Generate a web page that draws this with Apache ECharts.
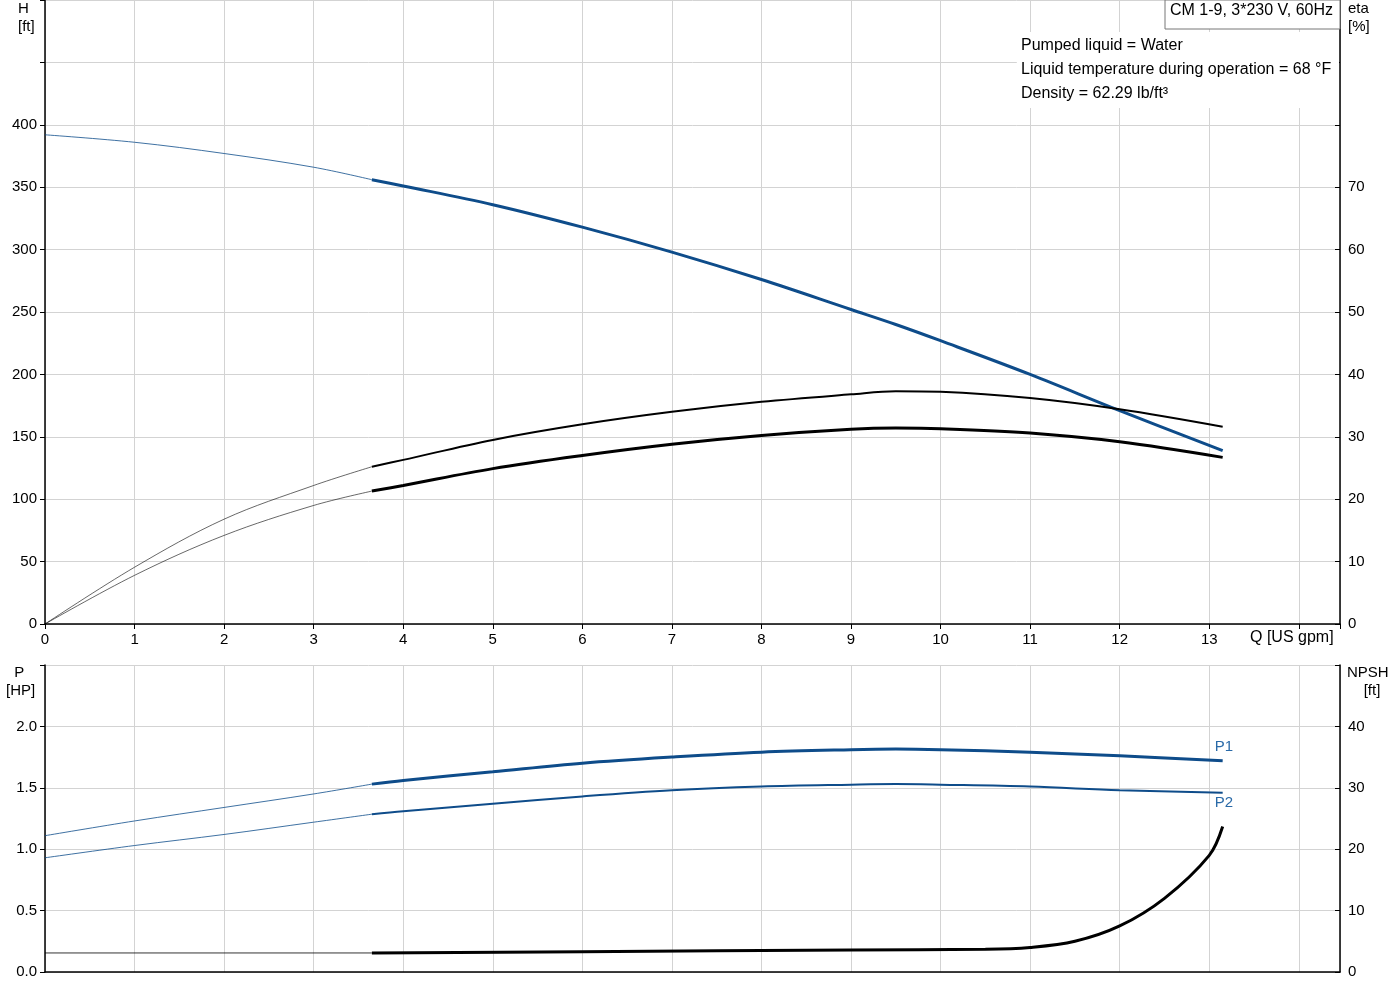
<!DOCTYPE html>
<html><head><meta charset="utf-8">
<script src="https://cdn.jsdelivr.net/npm/echarts@6/dist/echarts.min.js"></script>
<style>body{margin:0;background:#fff}#c{width:1400px;height:1000px}</style></head>
<body><div id="c"></div>
<script>
const qThin = [0, 1, 2, 3, 3.65];
const qThick = [3.65, 4, 5, 6, 7, 8, 9, 9.5, 10, 11, 12, 13.15];
const hThin = [392, 386, 377, 366, 356];
const hThick = [356, 351, 336, 318, 298, 276, 252, 240, 227, 200, 171, 139];
const etaAThin = [0, 9.1, 16.8, 22.2, 25.2];
const etaAThick = [25.2, 26.3, 29.5, 32, 34, 35.6, 36.8, 37.3, 37.2, 36.2, 34.4, 31.6];
const etaBThin = [0, 7.8, 14.2, 19, 21.3];
const etaBThick = [21.3, 22.2, 24.9, 27, 28.8, 30.2, 31.2, 31.4, 31.3, 30.6, 29.2, 26.7];
const p1Thin = [1.11, 1.23, 1.34, 1.45, 1.53];
const p1Thick = [1.53, 1.56, 1.63, 1.70, 1.75, 1.79, 1.81, 1.815, 1.81, 1.79, 1.76, 1.72];
const p2Thin = [0.93, 1.03, 1.12, 1.22, 1.285];
const p2Thick = [1.285, 1.31, 1.37, 1.43, 1.48, 1.51, 1.525, 1.53, 1.525, 1.51, 1.48, 1.46];
const qNpsh = [0, 3.65, 6, 9, 10.5, 11, 11.5, 12, 12.5, 13, 13.15];
const npsh = [3.1, 3.1, 3.3, 3.6, 3.7, 4.0, 5.0, 7.5, 12, 19, 23.7];

const zip = (a, b) => a.map((x, i) => [x, b[i]]);
const blue = '#0e4c8a';
const F = 'Arial, Liberation Sans, sans-serif';
const lbl = {color: '#000', fontSize: 15, fontFamily: F};
const gl = {show: true, lineStyle: {color: '#d3d3d3', width: 1}};
const axLine = {show: true, lineStyle: {color: '#000', width: 1.5}};
function ln(name, xi, yi, data, color, w) {
  return {type: 'line', name, xAxisIndex: xi, yAxisIndex: yi, data, showSymbol: false, smooth: 0.35,
    lineStyle: {color, width: w}, itemStyle: {color}, z: 5, silent: true};
}
const chart = echarts.init(document.getElementById('c'));
chart.setOption({
  animation: false,
  grid: [{left: 45, top: 0, width: 1295, height: 624}, {left: 45, top: 665, width: 1295, height: 307}],
  xAxis: [
    {gridIndex: 0, type: 'value', min: 0, max: 14.46, interval: 1, axisLine: axLine, axisTick: {show: true, length: 5, lineStyle: {color: '#000'}},
     axisLabel: {...lbl, formatter: v => v <= 13 ? v : ''}, splitLine: gl},
    {gridIndex: 1, type: 'value', min: 0, max: 14.46, interval: 1, axisLine: axLine, axisTick: {show: false},
     axisLabel: {show: false}, splitLine: gl}
  ],
  yAxis: [
    {gridIndex: 0, type: 'value', min: 0, max: 500, interval: 50, axisLine: axLine, axisTick: {show: true, length: 5, lineStyle: {color: '#000'}},
     axisLabel: {...lbl, formatter: v => v <= 400 ? v : ''}, splitLine: gl},
    {gridIndex: 0, type: 'value', min: 0, max: 100, interval: 10, position: 'right', axisLine: axLine, axisTick: {show: true, inside: true, length: 5, lineStyle: {color: '#000'}},
     axisLabel: {...lbl, formatter: v => v <= 70 ? v : ''}, splitLine: {show: false}},
    {gridIndex: 1, type: 'value', min: 0, max: 2.5, interval: 0.5, axisLine: axLine, axisTick: {show: true, length: 5, lineStyle: {color: '#000'}},
     axisLabel: {...lbl, formatter: v => v <= 2 ? v.toFixed(1) : ''}, splitLine: gl},
    {gridIndex: 1, type: 'value', min: 0, max: 50, interval: 10, position: 'right', axisLine: axLine, axisTick: {show: true, inside: true, length: 5, lineStyle: {color: '#000'}},
     axisLabel: {...lbl, formatter: v => v <= 40 ? v : ''}, splitLine: {show: false}}
  ],
  series: [
    ln('H', 0, 0, zip(qThin, hThin), blue, 0.8),
    ln('H', 0, 0, zip(qThick, hThick), blue, 3),
    ln('etaA', 0, 1, zip(qThin, etaAThin), '#000', 0.6),
    ln('etaA', 0, 1, zip(qThick, etaAThick), '#000', 2),
    ln('etaB', 0, 1, zip(qThin, etaBThin), '#000', 0.6),
    ln('etaB', 0, 1, zip(qThick, etaBThick), '#000', 3),
    ln('P1', 1, 2, zip(qThin, p1Thin), blue, 0.8),
    {...ln('P1', 1, 2, zip(qThick, p1Thick), blue, 3), endLabel: {show: true, formatter: 'P1', color: '#2a6aa8', fontSize: 15, fontFamily: F, offset: [-16, -14]}},
    ln('P2', 1, 2, zip(qThin, p2Thin), blue, 0.8),
    {...ln('P2', 1, 2, zip(qThick, p2Thick), blue, 2), endLabel: {show: true, formatter: 'P2', color: '#2a6aa8', fontSize: 15, fontFamily: F, offset: [-16, 10]}},
    {...ln('NPSH', 1, 3, zip(qNpsh.slice(0, 2), npsh.slice(0, 2)), '#000', 0.8), smooth: false},
    ln('NPSH', 1, 3, zip(qNpsh.slice(1), npsh.slice(1)), '#000', 3)
  ],
  graphic: [
    {type: 'text', left: 18, top: 0, style: {text: 'H\n[ft]', fill: '#000', fontSize: 15, fontFamily: F, align: 'center', lineHeight: 18}, z: 10},
    {type: 'text', left: 1348, top: 0, style: {text: 'eta\n[%]', fill: '#000', fontSize: 15, fontFamily: F, lineHeight: 18}, z: 10},
    {type: 'text', left: 1250, top: 630, style: {text: 'Q [US gpm]', fill: '#000', fontSize: 16, fontFamily: F}, z: 10},
    {type: 'text', left: 6, top: 664, style: {text: '  P\n[HP]', fill: '#000', fontSize: 15, fontFamily: F, lineHeight: 18}, z: 10},
    {type: 'text', left: 1347, top: 664, style: {text: 'NPSH\n    [ft]', fill: '#000', fontSize: 15, fontFamily: F, lineHeight: 18}, z: 10},
    {type: 'rect', shape: {x: 1165, y: 0, width: 175, height: 29}, style: {fill: '#fff', stroke: '#777', lineWidth: 1}, z: 10},
    {type: 'text', left: 1170, top: 3, style: {text: 'CM 1-9, 3*230 V, 60Hz', fill: '#000', fontSize: 16, fontFamily: F}, z: 11},
    {type: 'rect', shape: {x: 1017, y: 32, width: 322, height: 76}, style: {fill: '#fff'}, z: 10},
    {type: 'text', left: 1021, top: 34, style: {text: 'Pumped liquid = Water\nLiquid temperature during operation = 68 °F\nDensity = 62.29 lb/ft³', fill: '#000', fontSize: 16, fontFamily: F, lineHeight: 24}, z: 11}
  ]
});
</script></body></html>
